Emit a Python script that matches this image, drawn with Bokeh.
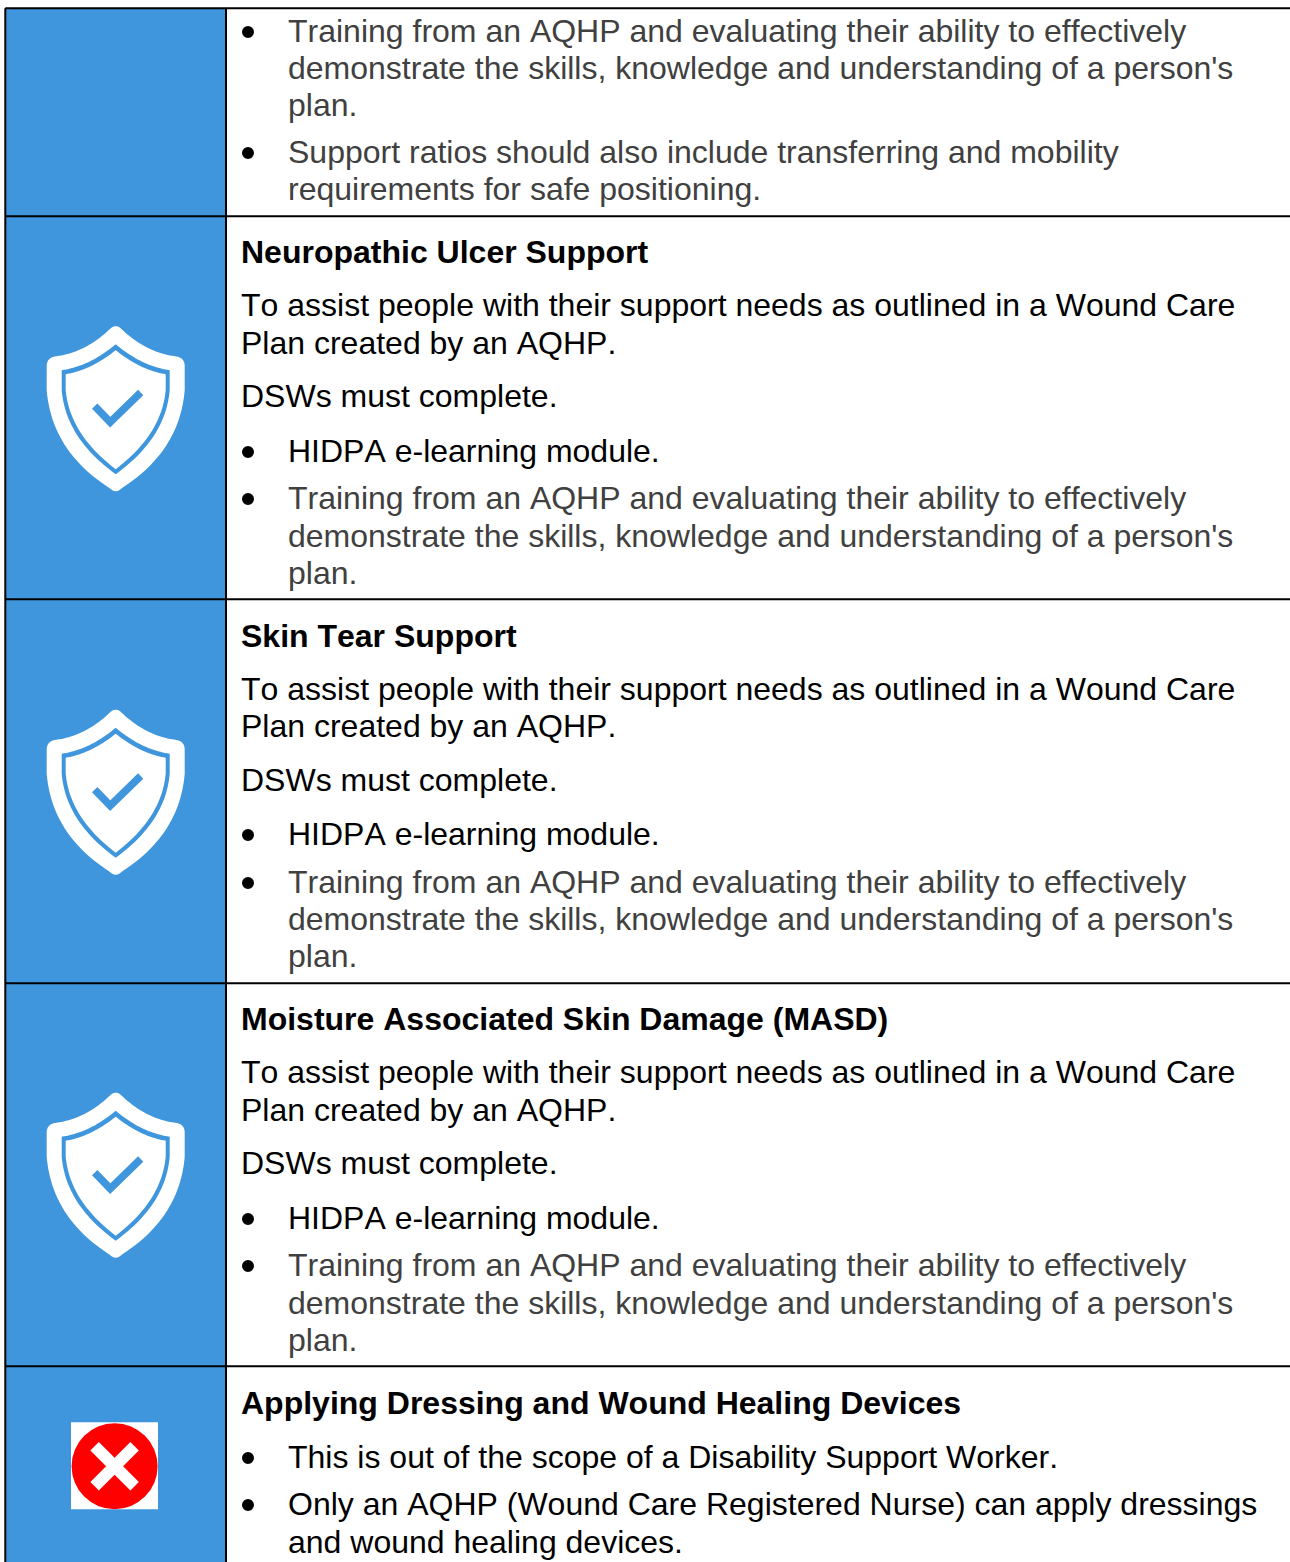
from bokeh.plotting import figure
from bokeh.models import Range1d
from bokeh.core.properties import value
from bokeh.embed import file_html
from bokeh.resources import INLINE

# ---- content ----
training = ["Training from an AQHP and evaluating their ability to effectively",
            "demonstrate the skills, knowledge and understanding of a person's",
            "plan."]
ratios = ["Support ratios should also include transferring and mobility",
          "requirements for safe positioning."]
purpose = ["To assist people with their support needs as outlined in a Wound Care",
           "Plan created by an AQHP."]
must = "DSWs must complete."
hidpa = "HIDPA e-learning module."
headings = ["Neuropathic Ulcer Support", "Skin Tear Support",
            "Moisture Associated Skin Damage (MASD)",
            "Applying Dressing and Wound Healing Devices"]
scope = "This is out of the scope of a Disability Support Worker."
only = ["Only an AQHP (Wound Care Registered Nurse) can apply dressings",
        "and wound healing devices."]

# ---- layout (page pixels) ----
X0, XDIV, XEND, YTOP, YEND = 5.3, 226, 1291, 8, 1563
ROWS = [216, 599, 983, 1366]
XT, XB, XH = 288, 248, 241
BLUE, GREY = "#4096DD", "#404040"
FONT, SIZE = "Liberation Sans", "32px"
DY = -11

p = figure(width=1290, height=1562, x_range=Range1d(0.5, 1290.5), y_range=Range1d(1562.3, 0.3),
           output_backend="svg", toolbar_location=None, min_border=0,
           outline_line_color=None)
p.styles = {"font-kerning": "none"}
p.axis.visible = False
p.grid.visible = False

p.quad(left=X0, right=XDIV, top=YTOP, bottom=YEND, fill_color=BLUE, line_color=None)
p.segment(x0=[X0] * 5, x1=[XEND] * 5, y0=[YTOP] + ROWS, y1=[YTOP] + ROWS, line_color="black", line_width=2)
p.segment(x0=[X0, XDIV], x1=[X0, XDIV], y0=[YTOP] * 2, y1=[YEND] * 2, line_color="black", line_width=2)


def put(x, y, txt, color="black", bold=False):
    p.text(x=[x], y=[y + DY], text=[txt], text_font=value(FONT), text_font_size=SIZE,
           text_color=color, text_baseline="alphabetic",
           text_font_style="bold" if bold else "normal")


def bullet(y):
    p.scatter(x=[XB], y=[y - 10.3], marker="circle", size=12, fill_color="black", line_color=None)


# row 0
bullet(42)
for y, t in zip([42, 79, 116], training):
    put(XT, y, t, GREY)
bullet(163)
for y, t in zip([163, 200], ratios):
    put(XT, y, t, GREY)

# the three wound rows
layouts = [(263, [316, 354], 407, 462, [509, 547, 584]),
           (647, [700, 737], 791, 845, [893, 930, 967]),
           (1030, [1083, 1121], 1174, 1229, [1276, 1314, 1351])]
for head, (yh, yp, ym, yd, yt) in zip(headings[:3], layouts):
    put(XH, yh, head, bold=True)
    for y, t in zip(yp, purpose):
        put(XH, y, t)
    put(XH, ym, must)
    bullet(yd)
    put(XT, yd, hidpa)
    bullet(yt[0])
    for y, t in zip(yt, training):
        put(XT, y, t, GREY)

# last row
put(XH, 1414, headings[3], bold=True)
bullet(1468)
put(XT, 1468, scope)
bullet(1515)
for y, t in zip([1515, 1553], only):
    put(XT, y, t)


# ---- shield icon ----
def bez(a, c, b, n=24):
    return [((1 - t) ** 2 * a[0] + 2 * t * (1 - t) * c[0] + t ** 2 * b[0],
             (1 - t) ** 2 * a[1] + 2 * t * (1 - t) * c[1] + t ** 2 * b[1])
            for t in (i / n for i in range(n + 1))]


def outline(half):
    pts = []
    for a, c, b in half:
        pts += bez(a, c, b)
    mirrored = [(-x, y) for x, y in reversed(pts)]
    return [q[0] for q in pts + mirrored], [q[1] for q in pts + mirrored]


# in px relative to the top of the shield, on its axis
OUTER = [((0, 0), (3, 0), (6, 3)), ((6, 3), (30, 26), (59, 30)),
         ((59, 30), (69, 31), (69, 40)), ((69, 40), (69, 62), (69, 64)),
         ((69, 64), (64, 125), (6, 162)), ((6, 162), (3, 165), (0, 165))]
MID = [((0, 18), (26, 40), (54, 44)), ((54, 44), (54, 60), (54, 64)),
       ((54, 64), (50, 112), (0, 148))]
INNER = [((0, 24), (25, 44), (50, 48)), ((50, 48), (50, 60), (50, 64)),
         ((50, 64), (46, 108), (0, 143))]
CHECK_X, CHECK_Y = [-21, -5.5, 25], [80, 96, 66.3]

for top in [326, 709.5, 1092.5]:
    for shape, col in [(OUTER, "white"), (MID, BLUE), (INNER, "white")]:
        xs, ys = outline(shape)
        p.patch(x=[115.7 + v for v in xs], y=[top + v for v in ys], fill_color=col, line_color=None)
    p.line(x=[115.7 + v for v in CHECK_X], y=[top + v for v in CHECK_Y], line_color=BLUE,
           line_width=7.5, line_join="miter")

# ---- cross icon ----
CX, CY = 114.6, 1466
p.quad(left=71, right=158, top=1422, bottom=1509, fill_color="white", line_color=None)
p.circle(x=[CX], y=[CY], radius=43, fill_color="#FF0000", line_color=None)
p.segment(x0=[CX - 20, CX - 20], x1=[CX + 20, CX + 20], y0=[CY - 20, CY + 20], y1=[CY + 20, CY - 20],
          line_color="white", line_width=12, line_cap="butt")

open("out.html", "w").write(file_html(p, INLINE))
